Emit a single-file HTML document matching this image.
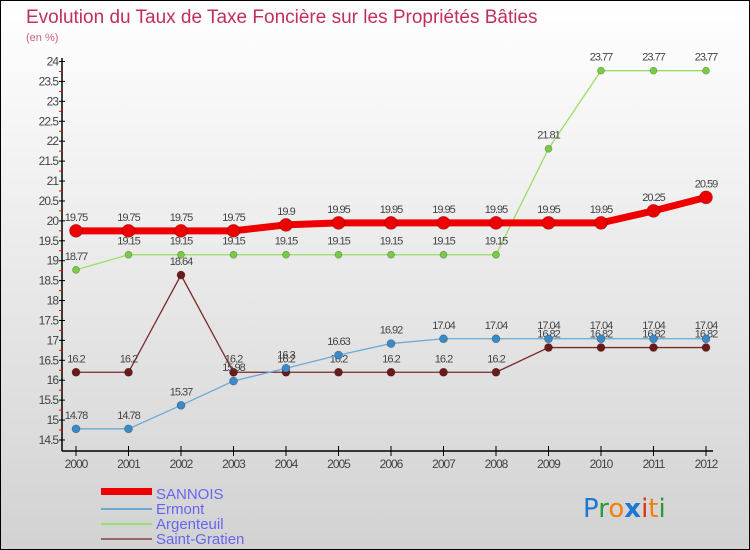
<!DOCTYPE html>
<html><head><meta charset="utf-8"><style>
body{margin:0;padding:0}
#wrap{position:relative;width:748px;height:548px;border:1px solid #000;background:linear-gradient(#fff,#f2f2f2 30%,#d2d2d2);overflow:hidden;font-family:"Liberation Sans",sans-serif}
</style></head><body>
<div id="wrap">
<svg id="chart" width="748" height="548">
<text x="25" y="22" font-size="19" fill="#c0305a">Evolution du Taux de Taxe Foncière sur les Propriétés Bâties</text>
<text x="25" y="40" font-size="11" fill="#d06080">(en %)</text>
<g id="axes"></g><g id="series"></g>
<g>
<rect x="100" y="487" width="51" height="7" fill="#e00"/>
<text x="155" y="498" font-size="15" fill="#6666ee">SANNOIS</text>
<line x1="100" y1="508" x2="151" y2="508" stroke="#6aaad0" stroke-width="2"/>
<text x="155" y="513" font-size="15" fill="#6666ee">Ermont</text>
<line x1="100" y1="523" x2="151" y2="523" stroke="#99dd77" stroke-width="2"/>
<text x="155" y="528" font-size="15" fill="#6666ee">Argenteuil</text>
<line x1="100" y1="538" x2="151" y2="538" stroke="#996666" stroke-width="2"/>
<text x="155" y="543" font-size="15" fill="#6666ee">Saint-Gratien</text>
</g>
<g font-size="26" font-family="'DejaVu Sans',sans-serif">
<text x="582" y="516"><tspan fill="#1a78d0">P</tspan><tspan fill="#2a9a3a">r</tspan><tspan fill="#f08010">o</tspan><tspan fill="#1a78d0" font-weight="bold">x</tspan><tspan fill="#e03010">i</tspan><tspan fill="#f08010">t</tspan><tspan fill="#2a9a3a">i</tspan></text>
</g>
</svg>
</div>
<script>
const years=[2000,2001,2002,2003,2004,2005,2006,2007,2008,2009,2010,2011,2012];
const sannois=[19.75,19.75,19.75,19.75,19.9,19.95,19.95,19.95,19.95,19.95,19.95,20.25,20.59];
const ermont=[14.78,14.78,15.37,15.98,16.3,16.63,16.92,17.04,17.04,17.04,17.04,17.04,17.04];
const argenteuil=[18.77,19.15,19.15,19.15,19.15,19.15,19.15,19.15,19.15,21.81,23.77,23.77,23.77];
const saintGratien=[16.2,16.2,18.64,16.2,16.2,16.2,16.2,16.2,16.2,16.82,16.82,16.82,16.82];
const yTicks=[14.5,15,15.5,16,16.5,17,17.5,18,18.5,19,19.5,20,20.5,21,21.5,22,22.5,23,23.5,24];
const NS="http://www.w3.org/2000/svg";
function X(i){return 75+i*52.5;}
function Y(v){return 60.5+(24-v)*39.84;}
function mk(t,a,p){const e=document.createElementNS(NS,t);for(const k in a)e.setAttribute(k,a[k]);p.appendChild(e);return e;}
const ax=document.getElementById('axes');
const yl=mk('line',{x1:61,y1:57,x2:61,y2:450,stroke:'#000','stroke-width':1.5},ax);


const xl=mk('line',{x1:61,y1:450,x2:712,y2:450,stroke:'#000','stroke-width':1.5},ax);


yTicks.forEach((v,i)=>{
 mk('line',{x1:58,y1:Y(v),x2:64,y2:Y(v),stroke:'#000'},ax);
 if(i<yTicks.length-1)mk('line',{x1:58,y1:Y(v+0.25),x2:62,y2:Y(v+0.25),stroke:'#e00'},ax);
 const t=mk('text',{x:57,y:Y(v)+4,'font-size':12,fill:'#444','text-anchor':'end','letter-spacing':'-1'},ax);
 t.textContent=String(v);
 
 
});
years.forEach((y,i)=>{
 mk('line',{x1:X(i),y1:445,x2:X(i),y2:455,stroke:'#000'},ax);
 const t=mk('text',{x:X(i),y:467,'font-size':12,fill:'#444','text-anchor':'middle','letter-spacing':'-1'},ax);
 t.textContent=String(y);
 
 
});
const sg=document.getElementById('series');
function draw(vals,color,dot,w,r,name){
 const g=mk('g',{},sg);
 
 
 mk('polyline',{points:vals.map((v,i)=>X(i)+','+Y(v)).join(' '),fill:'none',stroke:color,'stroke-width':w},g);
 vals.forEach((v,i)=>{
  const c=mk('circle',{cx:X(i),cy:Y(v),r:r,fill:dot,stroke:'rgba(0,0,0,0.3)','stroke-width':0.7},g);
  
  
  const t=mk('text',{x:X(i),y:Y(v)-10,'font-size':11,fill:'#444','text-anchor':'middle','letter-spacing':'-1'},g);
  t.textContent=String(v);
  
  
 });
}
draw(saintGratien,'#7a2a2a','#6a1a1a',1.3,4,'saint-gratien');
draw(ermont,'#6aaad8','#3a8ac8',1.3,4,'ermont');
draw(argenteuil,'#99dd66','#77cc44',1.3,3.5,'argenteuil');
draw(sannois,'#ee0000','#ee0000',7,6.5,'sannois');
</script>
</body></html>
